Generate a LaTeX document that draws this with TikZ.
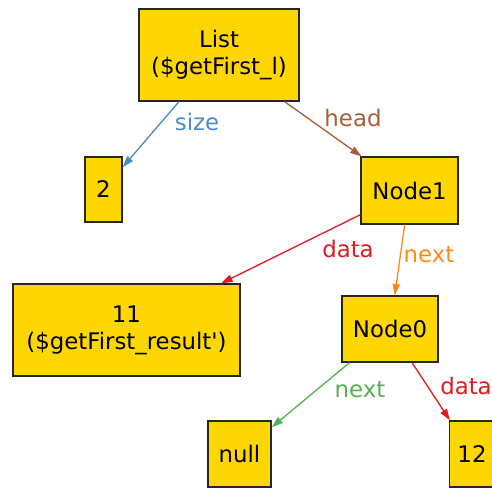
\documentclass[tikz,border=0pt]{standalone}
\usepackage{fontspec}
\setmainfont{DejaVu Sans}
\usepackage{tikz}
\usetikzlibrary{arrows.meta}

\definecolor{boxfill}{HTML}{FFD700}
\definecolor{cblue}{HTML}{4A8CC8}
\definecolor{cbrown}{HTML}{A85F38}
\definecolor{cred}{HTML}{E41A1C}
\definecolor{corange}{HTML}{FF8A1C}
\definecolor{cgreen}{HTML}{55B050}

\begin{document}
\begin{tikzpicture}[x=0.02cm, y=-0.02cm,
    font=\fontsize{13}{15.4}\selectfont,
    objbox/.style={draw=black!85, fill=boxfill, line width=0.75pt, inner sep=0pt, align=center},
    ref/.style={line width=0.75pt, -{Triangle[length=6.5pt,width=4.2pt]}},
    lbl/.style={anchor=base, inner sep=0pt}]
  \useasboundingbox (0,0) rectangle (492,487);
  \clip (0,0) rectangle (492,487);

  % Objects
  \node[objbox, minimum width=3.2cm,  minimum height=1.84cm] (list)   at (219,55)    {List\\(\$getFirst\_l)};
  \node[objbox, minimum width=0.74cm, minimum height=1.3cm]  (two)    at (103.5,189.5) {2};
  \node[objbox, minimum width=1.94cm, minimum height=1.34cm] (node1)  at (409.5,190.5) {Node1};
  \node[objbox, minimum width=4.54cm, minimum height=1.84cm] (eleven) at (126.5,330)  {11\\(\$getFirst\_result\textquotesingle)};
  \node[objbox, minimum width=1.92cm, minimum height=1.32cm] (node0)  at (390,329)    {Node0};
  \node[objbox, minimum width=1.26cm, minimum height=1.32cm] (null)   at (239.5,454)  {null};
  \node[objbox, minimum width=0.9cm,  minimum height=1.32cm] (twelve) at (472,454)    {12};

  % Fields
  \draw[ref, cblue]   (list)  -- (two);
  \draw[ref, cbrown]  (list)  -- (node1);
  \draw[ref, cred]    (node1) -- (eleven);
  \draw[ref, corange] (node1) -- (node0);
  \draw[ref, cgreen]  (node0) -- (null);
  \draw[ref, cred]    (node0) -- (twelve);

  % Field names
  \node[lbl, text=cblue]   (sizelbl)  at (197,130)   {size};
  \node[lbl, text=cbrown]  (headlbl)  at (353,126)   {head};
  \node[lbl, text=cred]    (datalbl1) at (348,257)   {data};
  \node[lbl, text=corange] (nextlbl1) at (429,262)   {next};
  \node[lbl, text=cgreen]  (nextlbl0) at (360,397)   {next};
  \node[lbl, text=cred]    (datalbl0) at (466,394)   {data};

\end{tikzpicture}
\end{document}
